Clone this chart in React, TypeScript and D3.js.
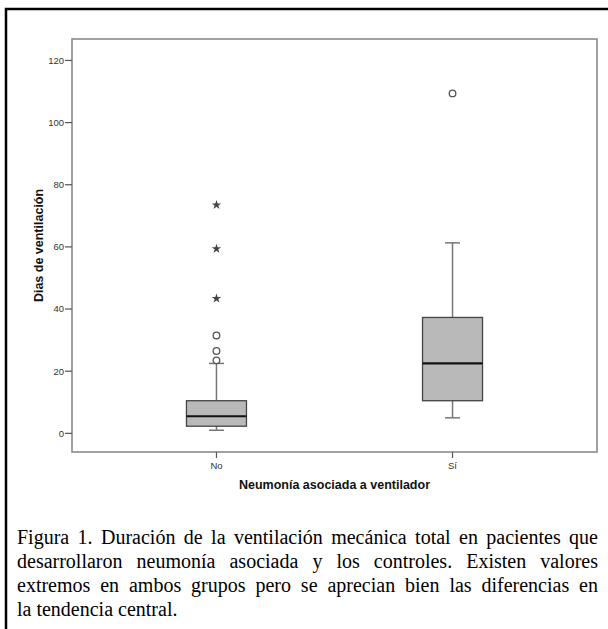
import React, { useEffect, useRef } from 'react'
import * as d3 from 'd3'

// values (days of ventilation)
const categories = ['No', 'Sí']
const lowWhisker = [1, 5]
const q1 = [2.3, 10.5]
const medians = [5.5, 22.5]
const q3 = [10.5, 37.3]
const highWhisker = [22.5, 61.3]
const outliers = [[23.5, 26.5, 31.5], [109.4]]
const extremes = [[43.4, 59.4, 73.5], []]
const yTicks = [0, 20, 40, 60, 80, 100, 120]

const xTitle = 'Neumonía asociada a ventilador'
const yTitle = 'Dias de ventilación'
const captionLines = [
  'Figura 1. Duración de la ventilación mecánica total en pacientes que',
  'desarrollaron neumonía asociada y los controles. Existen valores',
  'extremos en ambos grupos pero se aprecian bien las diferencias en',
  'la tendencia central.'
]

function App() {
  const ref = useRef<SVGSVGElement>(null)

  useEffect(() => {
    const svg = d3.select(ref.current)
    svg.selectAll('*').remove()

    const left = 72, right = 597, top = 39, bottom = 452

    // outer frame of the figure (runs off the page at right/bottom)
    svg.append('path')
      .attr('d', 'M6,640 L6,9 L620,9')
      .attr('fill', 'none')
      .attr('stroke', '#000')
      .attr('stroke-width', 2.5)

    let y = d3.scaleLinear().domain([-6, 126.9]).range([bottom, top])
    let x = d3.scalePoint<string>().domain(categories).range([left, right]).padding(0.612)

    svg.append('rect')
      .attr('x', left).attr('y', top)
      .attr('width', right - left).attr('height', bottom - top)
      .attr('fill', 'none')
      .attr('stroke', '#8a8a8a')
      .attr('stroke-width', 1.6)

    // y axis ticks
    let yAxis = svg.append('g')
    yTicks.forEach(t => {
      yAxis.append('line')
        .attr('x1', left - 7).attr('x2', left)
        .attr('y1', y(t)).attr('y2', y(t))
        .attr('stroke', '#555').attr('stroke-width', 1.2)
      yAxis.append('text')
        .attr('x', left - 8).attr('y', y(t))
        .attr('dy', '0.35em')
        .attr('text-anchor', 'end')
        .attr('font-family', 'Arial, "Liberation Sans", sans-serif')
        .attr('font-size', 9.5)
        .attr('fill', '#333')
        .text(t)
    })

    // x axis ticks
    categories.forEach(c => {
      let cx = x(c) as number
      svg.append('line')
        .attr('x1', cx).attr('x2', cx)
        .attr('y1', bottom).attr('y2', bottom + 6)
        .attr('stroke', '#555').attr('stroke-width', 1.2)
      svg.append('text')
        .attr('x', cx).attr('y', bottom + 17)
        .attr('text-anchor', 'middle')
        .attr('font-family', 'Arial, "Liberation Sans", sans-serif')
        .attr('font-size', 9.5)
        .attr('fill', '#333')
        .text(c)
    })

    svg.append('text')
      .attr('x', (left + right) / 2).attr('y', bottom + 37)
      .attr('text-anchor', 'middle')
      .attr('font-family', 'Arial, "Liberation Sans", sans-serif')
      .attr('font-weight', 'bold')
      .attr('font-size', 12.5)
      .attr('fill', '#111')
      .text(xTitle)

    svg.append('text')
      .attr('transform', 'translate(43,' + (top + bottom) / 2 + ') rotate(-90)')
      .attr('text-anchor', 'middle')
      .attr('font-family', 'Arial, "Liberation Sans", sans-serif')
      .attr('font-weight', 'bold')
      .attr('font-size', 12.5)
      .attr('fill', '#111')
      .text(yTitle)

    // boxes
    const half = 30, cap = 7.5
    categories.forEach((c, i) => {
      let cx = x(c) as number
      let g = svg.append('g')
      g.append('line')
        .attr('x1', cx).attr('x2', cx)
        .attr('y1', y(highWhisker[i])).attr('y2', y(q3[i]))
        .attr('stroke', '#777').attr('stroke-width', 1.5)
      g.append('line')
        .attr('x1', cx).attr('x2', cx)
        .attr('y1', y(lowWhisker[i])).attr('y2', y(q1[i]))
        .attr('stroke', '#777').attr('stroke-width', 1.5)
      ;[highWhisker[i], lowWhisker[i]].forEach(v => {
        g.append('line')
          .attr('x1', cx - cap).attr('x2', cx + cap)
          .attr('y1', y(v)).attr('y2', y(v))
          .attr('stroke', '#777').attr('stroke-width', 1.5)
      })
      g.append('rect')
        .attr('x', cx - half).attr('y', y(q3[i]))
        .attr('width', half * 2).attr('height', y(q1[i]) - y(q3[i]))
        .attr('fill', '#b9b9b9')
        .attr('stroke', '#444').attr('stroke-width', 1.3)
      g.append('line')
        .attr('x1', cx - half).attr('x2', cx + half)
        .attr('y1', y(medians[i])).attr('y2', y(medians[i]))
        .attr('stroke', '#111').attr('stroke-width', 2.2)

      outliers[i].forEach(v => {
        g.append('circle')
          .attr('cx', cx).attr('cy', y(v)).attr('r', 3.3)
          .attr('fill', '#fff')
          .attr('stroke', '#555').attr('stroke-width', 1.3)
      })
      extremes[i].forEach(v => {
        g.append('path')
          .attr('transform', 'translate(' + cx + ',' + y(v) + ')')
          .attr('d', d3.symbol().type(d3.symbolStar).size(28)())
          .attr('fill', '#444')
      })
    })
  }, [])

  return (
    <div style={{ position: 'absolute', left: 0, top: 0, width: 608, height: 629, background: '#fff' }}>
      <svg ref={ref} width={608} height={629} style={{ position: 'absolute', left: 0, top: 0 }} />
      <div style={{
        position: 'absolute', left: 17, top: 525, width: 581,
        fontFamily: '"Liberation Serif", "Times New Roman", serif',
        fontSize: 20, lineHeight: '24px', color: '#000', whiteSpace: 'nowrap'
      }}>
        {captionLines.map((line, i) => (
          <div key={i} style={{
            textAlign: 'justify',
            textAlignLast: i < captionLines.length - 1 ? 'justify' : 'left'
          }}>{line}</div>
        ))}
      </div>
    </div>
  )
}

export default App
